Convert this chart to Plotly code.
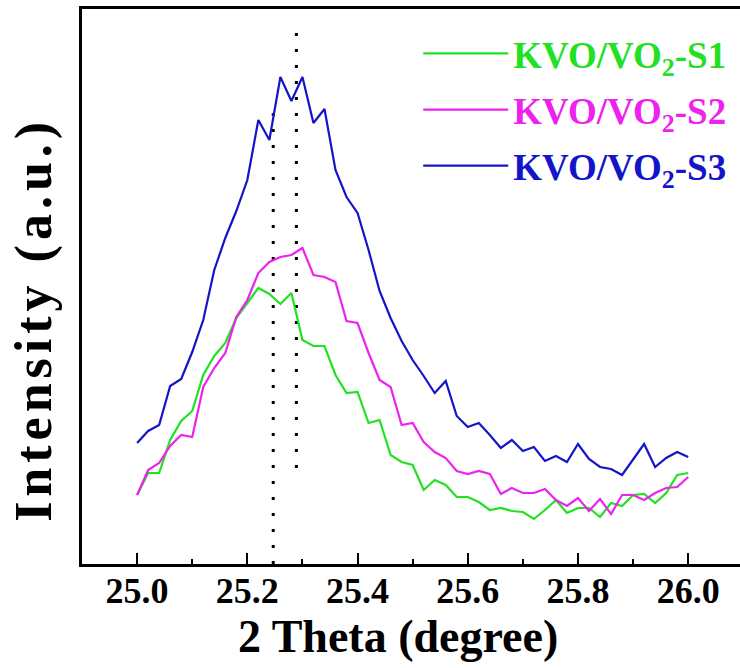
import plotly.graph_objects as go

# 2-theta positions, 25.0 to 26.0 deg in 0.02 deg steps
two_theta = [round(25.0 + 0.02 * i, 2) for i in range(51)]

s1 = [69, 91, 91, 124, 143, 153, 189, 208, 221, 246, 261, 276, 270, 260, 271, 224, 218, 218,
      189, 171, 172, 141, 144, 109, 102, 99, 74, 84, 79, 67, 67, 62, 54, 56, 53, 52, 45, 54,
      64, 51, 56, 56, 47, 61, 58, 69, 70, 61, 71, 89, 91]
s2 = [69, 94, 101, 118, 129, 127, 177, 196, 211, 247, 264, 291, 302, 307, 309, 316, 289, 287,
      282, 243, 241, 211, 184, 177, 139, 141, 122, 112, 106, 93, 90, 93, 90, 70, 76, 71, 71, 75,
      64, 58, 66, 53, 65, 50, 69, 69, 64, 71, 76, 77, 87]
s3 = [121, 133, 139, 178, 185, 212, 244, 294, 326, 353, 384, 444, 424, 487, 463, 487, 441, 455,
      394, 367, 351, 314, 273, 246, 223, 204, 188, 171, 183, 148, 137, 141, 129, 116, 124, 113,
      117, 103, 108, 102, 120, 105, 97, 95, 89, 105, 120, 97, 106, 112, 107]

names = ["KVO/VO<sub>2</sub>-S1", "KVO/VO<sub>2</sub>-S2", "KVO/VO<sub>2</sub>-S3"]
colors = ["#22e022", "#ee22ee", "#1414c8"]

# peak-position guide lines: (x, y_low, y_high)
guide_x = [25.247, 25.289]
guide_lo = [0, 96]
guide_hi = [458, 538]

tick_vals = [25.0, 25.2, 25.4, 25.6, 25.8, 26.0]
tick_text = ["25.0", "25.2", "25.4", "25.6", "25.8", "26.0"]

x_title = "2 Theta (degree)"
y_title = "Intensity (a.u.)"

FONT = "Times New Roman, Liberation Serif, serif"

fig = go.Figure()

for xg, lo, hi in zip(guide_x, guide_lo, guide_hi):
    fig.add_trace(go.Scatter(
        x=[xg, xg], y=[lo, hi], mode="lines", showlegend=False, hoverinfo="skip",
        line=dict(color="black", width=3, dash="3px,13px"),
    ))

for k, (ys, nm, c) in enumerate(zip([s1, s2, s3], names, colors)):
    fig.add_trace(go.Scatter(
        x=two_theta, y=ys, mode="lines", legendgroup=f"g{k}",
        name=f'<span style="color:{c}">{nm}</span>',
        line=dict(color=c, width=2.2),
    ))

fig.update_layout(
    width=740, height=668,
    margin=dict(l=82, r=0, t=9, b=104),
    paper_bgcolor="white", plot_bgcolor="white",
    font=dict(family=FONT, color="black", weight="bold"),
    showlegend=True,
    legend=dict(
        x=0.511, y=0.975, xanchor="left", yanchor="top",
        bgcolor="rgba(0,0,0,0)", borderwidth=0,
        font=dict(family=FONT, size=37, weight="bold"),
        itemwidth=85, tracegroupgap=5,
    ),
    xaxis=dict(
        range=[24.9, 26.094], showgrid=False, zeroline=False,
        showline=True, linecolor="black", linewidth=3, mirror=True,
        ticks="inside", ticklen=11, tickwidth=2, tickcolor="black",
        tickvals=tick_vals, ticktext=tick_text, ticklabelstandoff=-7,
        tickfont=dict(family=FONT, size=36, weight="bold"),
        minor=dict(dtick=0.1, tick0=25.1, ticks="inside", ticklen=5, tickwidth=2, tickcolor="black"),
    ),
    yaxis=dict(
        range=[0, 555], showgrid=False, zeroline=False,
        showline=True, linecolor="black", linewidth=3, mirror=False,
        showticklabels=False, ticks="",
    ),
    annotations=[
        dict(text=x_title, xref="paper", yref="paper", x=0.48, y=-0.131,
             xanchor="center", yanchor="middle", showarrow=False,
             font=dict(family=FONT, size=46, weight="bold", color="black")),
        dict(text=f'<span style="letter-spacing:5px">{y_title}</span>',
             xref="paper", yref="paper", x=-0.072, y=0.441,
             xanchor="center", yanchor="middle", textangle=-90, showarrow=False,
             font=dict(family=FONT, size=52, weight="bold", color="black")),
    ],
)

fig.write_html("out.html")
